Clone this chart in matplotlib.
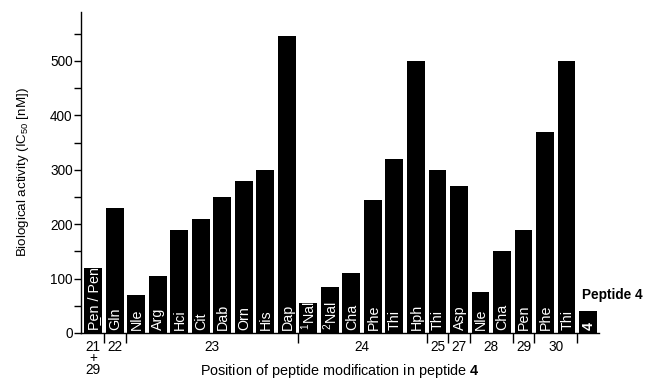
import matplotlib
matplotlib.use("Agg")
import matplotlib.pyplot as plt
import numpy as np

plt.rcParams['font.family'] = ['Liberation Sans', 'DejaVu Sans']
plt.rcParams['mathtext.fontset'] = 'custom'
plt.rcParams['mathtext.rm'] = 'Liberation Sans'
plt.rcParams['mathtext.it'] = 'Liberation Sans:italic'
plt.rcParams['mathtext.bf'] = 'Liberation Sans:bold'

bar_labels = ["P\u0332en / Pen", "Gln", "Nle", "Arg", "Hci", "Cit", "Dab", "Orn", "His", "Dap",
              "$^{1}$Nal", "$^{2}$Nal", "Cha", "Phe", "Thi", "Hph",
              "Thi", "Asp", "Nle", "Cha", "Pen", "Phe", "Thi", "4"]
values = [120, 230, 70, 105, 190, 210, 250, 280, 300, 545,
          55, 85, 110, 245, 320, 500,
          300, 270, 75, 150, 190, 370, 500, 40]
group_names = ["21\n+\n29", "22", "23", "24", "25", "27", "28", "29", "30"]
group_sizes = [1, 1, 8, 6, 1, 1, 2, 1, 2]
yticks = [0, 100, 200, 300, 400, 500]

fig = plt.figure(figsize=(6.46, 3.81), dpi=100)
ax = fig.add_axes([81/646, 48/381, (599-81)/646, (333-12)/381])

x = np.arange(len(values))
ax.bar(x, values, width=0.83, color='black', edgecolor='none')
ax.set_xlim(-0.57, len(values) - 0.49)
ax.set_ylim(0, 590)

for i, (lab, v) in enumerate(zip(bar_labels, values)):
    bold = (i == len(values) - 1)
    ax.text(i + 0.03, 5, lab, rotation=90, ha='center', va='bottom', color='white',
            fontsize=10.3, fontweight='bold' if bold else 'normal')

ax.text(len(values) - 1.28, 57, "Peptide 4", ha='left', va='bottom',
        fontsize=9.8, fontweight='bold')

for s in ['top', 'right']:
    ax.spines[s].set_visible(False)
ax.spines['left'].set_linewidth(1.0)
ax.spines['bottom'].set_linewidth(1.0)

ax.set_yticks(yticks)
ax.set_yticks(np.arange(50, 600, 100), minor=True)
ax.tick_params(axis='y', which='major', length=5, width=1, labelsize=9.8, pad=1)
ax.tick_params(axis='y', which='minor', length=5, width=1)

# group separators and labels
bounds = np.cumsum([0] + group_sizes)
ax.set_xticks(bounds[1:] - 0.5)
ax.set_xticklabels([])
ax.tick_params(axis='x', which='major', length=7, width=1)
for name, a, b in zip(group_names, bounds[:-1], bounds[1:]):
    c = (a + b - 1) / 2
    ax.text(c, -12, name, ha='center', va='top', fontsize=9.8, linespacing=0.8,
            transform=ax.transData)

ax.set_ylabel("Biological activity (IC$_{50}$ [nM])", fontsize=9.6, labelpad=14)
ax.text(0.5, -0.091, "Position of peptide modification in peptide $\\mathbf{4}$",
        transform=ax.transAxes, ha='center', va='top', fontsize=10.4)

fig.savefig("out.png", dpi=100)
